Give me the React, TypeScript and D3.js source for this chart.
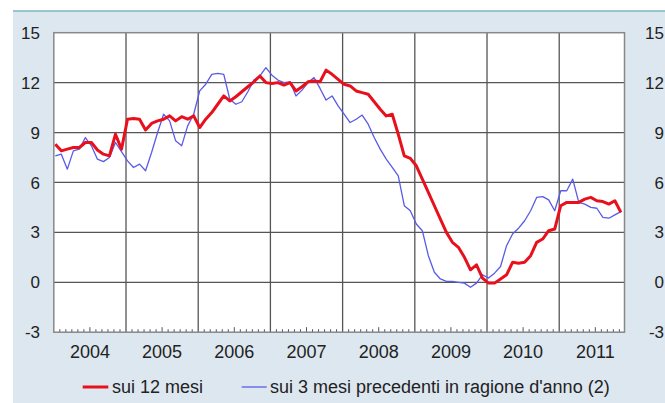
import React from "react";
import * as d3 from "d3";

const years = [2004, 2005, 2006, 2007, 2008, 2009, 2010, 2011];
const yTicks = [-3, 0, 3, 6, 9, 12, 15];

// monthly values, Jan 2004 .. Nov 2011
const red12 = [
  8.3, 7.9, 8.0, 8.1, 8.1, 8.4, 8.4, 7.95, 7.7, 7.6, 8.9, 8.0,
  9.8, 9.85, 9.8, 9.15, 9.55, 9.7, 9.8, 10.0, 9.7, 9.95, 9.8, 10.0,
  9.3, 9.8, 10.2, 10.7, 11.2, 10.9, 11.15, 11.45, 11.75, 12.05, 12.4, 12.0,
  11.95, 12.0, 11.85, 12.0, 11.5, 11.75, 12.05, 12.1, 12.05, 12.75, 12.5, 12.2,
  11.9, 11.8, 11.5, 11.4, 11.3, 10.85, 10.4, 10.0, 10.1, 8.9, 7.6, 7.45,
  7.0, 6.2, 5.4, 4.6, 3.8, 3.0, 2.4, 2.1, 1.5, 0.75, 1.05, 0.25,
  -0.05, -0.05, 0.2, 0.45, 1.2, 1.15, 1.2, 1.6, 2.4, 2.6, 3.1, 3.2,
  4.6, 4.8, 4.8, 4.8, 5.0, 5.1, 4.9, 4.85, 4.7, 4.9, 4.2,
];
const blue3 = [
  7.6, 7.7, 6.8, 7.9, 8.0, 8.7, 8.2, 7.4, 7.25, 7.5, 8.4, 7.85,
  7.3, 6.9, 7.1, 6.7, 7.8, 9.0, 10.1, 9.7, 8.5, 8.2, 9.4, 10.1,
  11.5, 11.9, 12.5, 12.55, 12.5, 11.0, 10.7, 10.85, 11.45, 12.15, 12.4, 12.9,
  12.45, 12.15, 12.0, 12.05, 11.2, 11.55, 12.0, 12.3, 11.65, 10.95, 11.2, 10.6,
  10.1, 9.6, 9.8, 10.05, 9.5, 8.7, 8.0, 7.4, 6.9, 6.4, 4.6, 4.3,
  3.5, 3.1, 1.6, 0.6, 0.2, 0.05, 0.05, 0.0, -0.05, -0.3, -0.05, 0.45,
  0.25, 0.55, 0.95, 2.2, 2.9, 3.25, 3.7, 4.3, 5.1, 5.15, 4.95, 4.3,
  5.5, 5.5, 6.2, 4.8, 4.7, 4.5, 4.45, 3.9, 3.85, 4.05, 4.25,
];
const legendLabels = ["sui 12 mesi", "sui 3 mesi precedenti in ragione d'anno (2)"];

export default function App() {
  const W = 665, H = 403;
  const left = 53.8, right = 624.5, top = 32.7, bottom = 332.2;
  const x = d3.scaleLinear().domain([0, 94.85]).range([left, right]);
  const y = d3.scaleLinear().domain([-3, 15]).range([bottom, top]);
  const line = d3.line<number>().x((_, i) => x(i + 0.25)).y((d) => y(d));
  const font = "'Liberation Sans', Arial, Helvetica, sans-serif";
  const months = d3.range(1, 95);

  return (
    <svg width={W} height={H} style={{ position: "absolute", left: 0, top: 0 }}>
      <rect x={0} y={0} width={W} height={H} fill="#ffffff" />
      <rect x={13} y={11} width={W - 13} height={H - 11} fill="#dde7f0" />
      <line x1={13} x2={W} y1={11} y2={11} stroke="#7db4c6" strokeWidth={1.5} />
      <rect x={left} y={top} width={right - left} height={bottom - top} fill="#ffffff" />
      {/* horizontal grid */}
      {yTicks.filter((t) => t > -3 && t < 15).map((t) => (
        <line key={"h" + t} x1={left} x2={right} y1={y(t)} y2={y(t)} stroke="#555" strokeWidth={1.3} />
      ))}
      {/* vertical grid at year boundaries */}
      {years.slice(1).map((yr, k) => (
        <line key={"v" + yr} x1={x((k + 1) * 12)} x2={x((k + 1) * 12)} y1={top} y2={bottom} stroke="#555" strokeWidth={1.3} />
      ))}
      {/* monthly ticks */}
      {months.map((m) => (
        m % 12 === 0 ? null : (
          <line key={"t" + m} x1={x(m)} x2={x(m)} y1={bottom} y2={bottom - (m % 12 === 6 ? 5 : 3)} stroke="#555" strokeWidth={1} />
        )
      ))}
      <rect x={left} y={top} width={right - left} height={bottom - top} fill="none" stroke="#888" strokeWidth={1.5} />
      {/* series */}
      <path d={line(blue3) || ""} fill="none" stroke="#5a5ae8" strokeWidth={1.3} strokeLinejoin="round" />
      <path d={line(red12) || ""} fill="none" stroke="#e8101c" strokeWidth={3} strokeLinejoin="round" />
      {/* y labels */}
      {yTicks.map((t) => (
        <g key={"yl" + t}>
          <text x={40} y={y(t)} dy="0.36em" textAnchor="end" fontFamily={font} fontSize={17} fill="#222">{t}</text>
          <text x={664} y={y(t)} dy="0.36em" textAnchor="end" fontFamily={font} fontSize={17} fill="#222">{t}</text>
        </g>
      ))}
      {/* x labels */}
      {years.map((yr, k) => (
        <text key={"xl" + yr} x={x(k * 12 + 6)} y={358} textAnchor="middle" fontFamily={font} fontSize={18} fill="#222">{yr}</text>
      ))}
      {/* legend */}
      <line x1={82.7} x2={108.3} y1={387} y2={387} stroke="#e8101c" strokeWidth={3} />
      <text x={112} y={393} fontFamily={font} fontSize={18} fill="#222">{legendLabels[0]}</text>
      <line x1={241.7} x2={266.7} y1={387} y2={387} stroke="#5a5ae8" strokeWidth={1.3} />
      <text x={270} y={393} fontFamily={font} fontSize={18} fill="#222">{legendLabels[1]}</text>
    </svg>
  );
}
